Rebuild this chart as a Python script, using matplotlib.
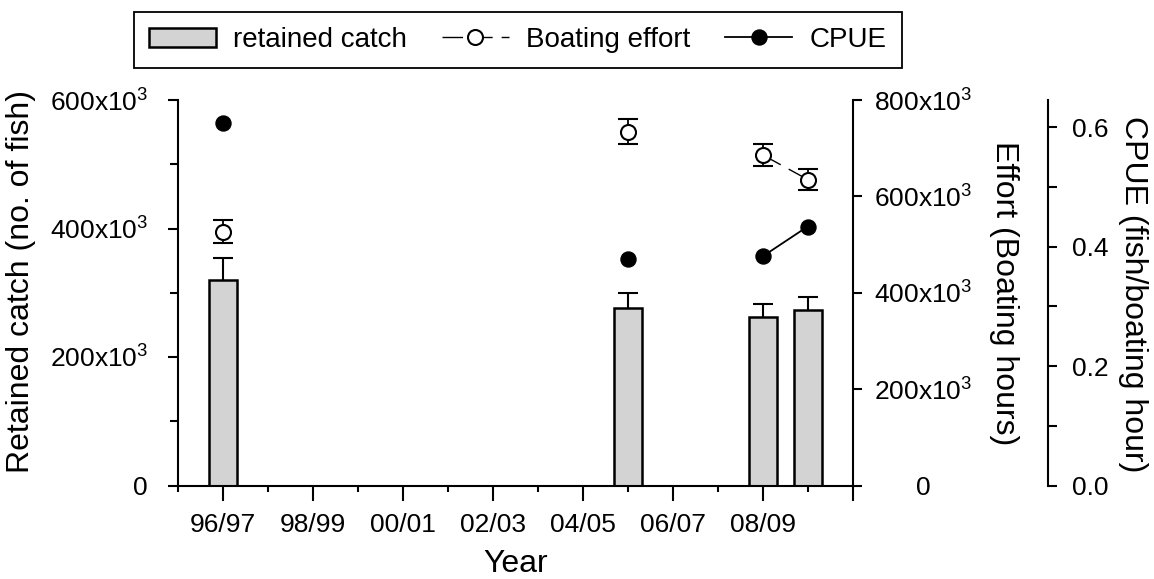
import numpy as np
import pandas as pd
import matplotlib
matplotlib.use("Agg")
import matplotlib.pyplot as plt
from matplotlib.ticker import FixedLocator

plt.rcParams['font.family'] = ['Liberation Sans', 'DejaVu Sans']
plt.rcParams['lines.scale_dashes'] = False
plt.rcParams['mathtext.fontset'] = 'custom'
plt.rcParams['mathtext.rm'] = 'Liberation Sans'
plt.rcParams['mathtext.it'] = 'Liberation Sans'
plt.rcParams['mathtext.default'] = 'regular'

# ---- data ----
all_seasons = ['96/97', '97/98', '98/99', '99/00', '00/01', '01/02', '02/03', '03/04',
               '04/05', '05/06', '06/07', '07/08', '08/09', '09/10', '10/11']
tick_labels = ['96/97', '98/99', '00/01', '02/03', '04/05', '06/07', '08/09', '']
seasons = ['96/97', '05/06', '08/09', '09/10']
catch = [320e3, 277e3, 262e3, 273e3]
catch_err = [34e3, 22e3, 20e3, 20e3]
effort = [527e3, 734e3, 686e3, 635e3]
effort_err = [24e3, 26e3, 22e3, 22e3]
cpue = [0.608, 0.380, 0.384, 0.434]

left_ticks = [0, 200e3, 400e3, 600e3]
left_labels = ['0', r'200x10$^{3}$', r'400x10$^{3}$', r'600x10$^{3}$']
eff_ticks = [0, 200e3, 400e3, 600e3, 800e3]
eff_labels = ['0', r'200x10$^{3}$', r'400x10$^{3}$', r'600x10$^{3}$', r'800x10$^{3}$']
cpue_ticks = [0.0, 0.2, 0.4, 0.6]
cpue_labels = ['0.0', '0.2', '0.4', '0.6']

# positions
pos = {s: i for i, s in enumerate(all_seasons)}
x = np.array([pos[s] for s in seasons], dtype=float)
eff_full = pd.Series(effort, index=seasons).reindex(all_seasons)
cpue_full = pd.Series(cpue, index=seasons).reindex(all_seasons)
x_full = np.arange(len(all_seasons))

W, H = 1154, 579
fig = plt.figure(figsize=(W / 100, H / 100), dpi=100)
L, R, T, B = 177.7, 852.7, 100.0, 485.5
ax = fig.add_axes([L / W, 1 - B / H, (R - L) / W, (B - T) / H])
ax2 = ax.twinx()
ax3 = ax.twinx()

lw = 1.5
# bars
bars = ax.bar(x, catch, width=0.62, color='#d3d3d3', edgecolor='black', linewidth=1.8,
              zorder=2, label='retained catch')
eb = ax.errorbar(x, catch, yerr=[np.zeros(len(catch)), catch_err], fmt='none',
                 ecolor='black', elinewidth=1.5, capsize=7.2, capthick=1.5, zorder=1)
eb[1][0].set_visible(False)

# effort
ax2.errorbar(x, effort, yerr=effort_err, fmt='none', ecolor='black', elinewidth=1.3,
             capsize=7.2, capthick=1.5, zorder=2)
l_eff, = ax2.plot(x_full, eff_full.values, color='black', lw=1.0, dashes=(14.8, 6.5),
                  marker='o', ms=10.8, mfc='white', mec='black', mew=1.5, zorder=3,
                  label='Boating effort')

# cpue
l_cpue, = ax3.plot(x_full, cpue_full.values, color='black', lw=1.3, marker='o',
                   ms=10.8, mfc='black', mec='black', zorder=3, label='CPUE')

# ---- axes styling ----
ax.set_xlim(-1, 14)
ax.set_ylim(0, 600e3)
ax2.set_ylim(0, 800e3)
ax3.set_ylim(0, 0.646)

for a in (ax, ax2, ax3):
    for s in a.spines.values():
        s.set_linewidth(lw)
    a.spines['top'].set_visible(False)
ax.spines['right'].set_visible(False)
for a in (ax2, ax3):
    a.spines['left'].set_visible(False)
    a.spines['bottom'].set_visible(False)
ax3.spines['right'].set_position(('axes', 1.29))

ax.xaxis.set_major_locator(FixedLocator(list(range(0, 15, 2))))
ax.set_xticklabels(tick_labels)
ax.xaxis.set_minor_locator(FixedLocator(list(range(-1, 14, 2))))
ax.tick_params(axis='x', which='major', direction='out', length=10.8, width=lw, pad=9, labelsize=19)
ax.tick_params(axis='x', which='minor', direction='out', length=4.3, width=lw)

ax.set_yticks(left_ticks)
ax.set_yticklabels(left_labels)
ax.yaxis.set_minor_locator(FixedLocator([100e3, 300e3, 500e3]))
ax.tick_params(axis='y', which='major', direction='out', length=7.5, width=lw, pad=14, labelsize=19)
ax.tick_params(axis='y', which='minor', direction='out', length=6, width=lw)

ax2.set_yticks(eff_ticks)
ax2.set_yticklabels(eff_labels)
ax2.tick_params(axis='y', which='major', direction='out', length=6.5, width=lw, pad=44, labelsize=19)
plt.setp(ax2.get_yticklabels(), ha='center')

ax3.set_yticks(cpue_ticks)
ax3.set_yticklabels(cpue_labels)
ax3.yaxis.set_minor_locator(FixedLocator([0.1, 0.3, 0.5]))
ax3.tick_params(axis='y', which='major', direction='out', length=6.5, width=lw, pad=10.6, labelsize=19)
ax3.tick_params(axis='y', which='minor', direction='out', length=6.5, width=lw)

# labels
ax.set_xlabel('Year', fontsize=23)
ax.xaxis.set_label_coords(0.5, -0.2244)
ax.xaxis.label.set(va='baseline', ha='center')

ax.set_ylabel('Retained catch (no. of fish)', fontsize=23)
ax.yaxis.set_label_coords(-0.2321, 0.529)
ax.yaxis.label.set(va='center', ha='center', rotation_mode='anchor')

ax2.set_ylabel('Effort (Boating hours)', fontsize=23, rotation=270)
ax2.yaxis.set_label_coords(1.224, 0.5)
ax2.yaxis.label.set(va='center', ha='center', rotation_mode='anchor')

ax3.set_ylabel('CPUE (fish/boating hour)', fontsize=23, rotation=270)
ax3.yaxis.set_label_coords(1.415, 0.497)
ax3.yaxis.label.set(va='center', ha='center', rotation_mode='anchor')

# legend
leg = fig.legend([bars, l_eff, l_cpue], ['retained catch', 'Boating effort', 'CPUE'],
                 loc='center', bbox_to_anchor=((134 + 901.7) / 2 / W, 1 - 40 / H),
                 ncol=3, fontsize=20, frameon=True, fancybox=False, shadow=False,
                 framealpha=1, edgecolor='black', borderpad=0.55, handlelength=2.4,
                 handletextpad=0.63, columnspacing=1.25, numpoints=1)
leg.get_frame().set_linewidth(1.3)

fig.savefig('out.png', dpi=100)
